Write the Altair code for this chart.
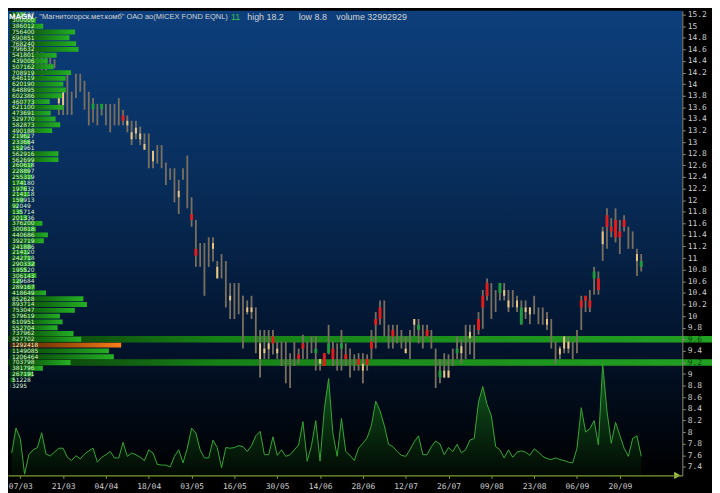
import altair as alt
import pandas as pd

# ---------------- data ----------------
IDX = list(range(148))
HI = [14.90, 14.95, 14.80, 14.70, 14.85, 14.75, 14.60, 14.55, 14.50, 14.46,
      14.43, 13.79, 13.87, 14.18, 13.87, 14.18, 14.18, 14.06, 13.87, 13.76,
      13.66, 13.66, 13.66, 13.66, 13.66, 13.76, 13.56, 13.46, 13.37, 13.37,
      13.27, 13.15, 13.15, 12.85, 12.95, 12.95, 12.65, 12.55, 12.55, 12.35,
      12.55, 12.77, 12.05, 11.66, 11.26, 11.26, 11.36, 11.36, 10.95, 11.07,
      10.95, 10.57, 10.57, 10.57, 10.35, 10.27, 10.35, 10.15, 9.76, 9.76,
      9.76, 9.76, 9.56, 9.56, 9.56, 9.36, 9.56, 9.44, 9.68, 9.56,
      9.65, 9.65, 9.26, 9.36, 9.85, 9.56, 9.53, 9.76, 9.53, 9.44,
      9.34, 9.36, 9.36, 9.34, 9.76, 10.07, 10.27, 10.27, 9.85, 9.85,
      9.85, 9.76, 9.65, 9.76, 9.95, 9.95, 9.85, 9.85, 9.76, 9.44,
      9.26, 9.36, 9.34, 9.44, 9.65, 9.60, 9.85, 9.85, 9.85, 10.07,
      10.45, 10.65, 10.57, 10.45, 10.57, 10.57, 10.45, 10.45, 10.35, 10.27,
      10.27, 10.15, 10.35, 10.15, 10.15, 10.07, 9.95, 9.56, 9.48, 9.65,
      9.65, 9.56, 9.76, 10.35, 10.35, 10.45, 10.85, 10.77, 11.54, 11.86,
      11.69, 11.86, 11.66, 11.74, 11.54, 11.46, 11.16, 11.07]
LO = [14.55, 14.50, 14.40, 14.45, 14.50, 14.30, 14.25, 14.15, 14.20, 14.30,
      14.28, 13.47, 13.47, 13.47, 13.47, 13.76, 13.87, 13.56, 13.29, 13.34,
      13.29, 13.46, 13.29, 13.17, 13.29, 13.29, 13.29, 13.17, 12.95, 13.05,
      12.95, 12.87, 12.55, 12.55, 12.63, 12.55, 12.26, 12.35, 11.96, 11.76,
      12.35, 11.86, 11.54, 10.85, 10.85, 10.35, 10.85, 10.94, 10.65, 10.65,
      10.15, 9.95, 9.95, 10.03, 9.44, 10.03, 9.95, 9.36, 8.94, 9.26,
      9.26, 9.34, 9.26, 9.14, 8.84, 8.76, 9.14, 9.18, 9.26, 9.26,
      9.36, 9.06, 9.06, 9.14, 9.34, 9.14, 9.06, 9.06, 9.14, 8.94,
      9.06, 9.06, 8.84, 9.06, 9.26, 9.44, 9.85, 9.65, 9.44, 9.44,
      9.53, 9.44, 9.36, 9.26, 9.65, 9.53, 9.44, 9.65, 9.44, 8.76,
      8.84, 8.94, 8.94, 9.14, 9.26, 9.18, 9.26, 9.34, 9.26, 9.68,
      9.78, 10.27, 9.95, 10.07, 10.27, 10.27, 10.07, 10.15, 10.07, 9.85,
      9.95, 9.86, 10.03, 9.86, 9.85, 9.76, 9.44, 9.18, 9.26, 9.36,
      9.36, 9.26, 9.36, 9.76, 10.07, 10.07, 10.37, 10.37, 10.95, 11.16,
      11.36, 11.27, 11.07, 11.46, 11.16, 11.16, 10.69, 10.77]
N = None
BODY_TOP = [N, N, N, N, N, N, N, N, N, N,
            N, 13.76, 13.87, N, N, N, N, N, N, 13.66,
            N, 13.66, N, N, N, N, 13.46, 13.37, 13.17, 13.25,
            13.15, 12.97, N, 12.85, N, N, N, N, N, 12.16,
            N, N, 11.76, 11.16, N, N, N, 11.26, 10.85, N,
            N, 10.35, N, N, N, 10.15, 10.15, N, 9.53, 9.44,
            9.53, 9.65, 9.44, N, 9.06, N, N, 9.34, 9.53, N,
            N, 9.44, 9.26, 9.36, 9.53, 9.44, N, 9.53, 9.34, N,
            N, 9.26, 9.18, 9.26, 9.56, 9.95, 10.15, 10.07, N, 9.76,
            N, N, 9.44, N, 9.95, 9.85, N, 9.76, N, N,
            9.06, 9.06, 9.06, N, 9.44, 9.48, N, 9.73, N, 9.95,
            10.35, 10.57, 10.27, N, 10.57, 10.45, 10.27, N, 10.27, 10.15,
            10.15, 10.15, N, N, N, 9.95, N, N, 9.44, 9.65,
            9.56, N, N, 10.27, 10.35, 10.27, 10.77, 10.65, 11.46, 11.74,
            11.54, 11.66, 11.46, 11.66, N, 11.46, 11.07, 10.95]
BODY_BOT = [N, N, N, N, N, N, N, N, N, N,
            N, 13.67, 13.64, N, N, N, N, N, N, 13.57,
            N, 13.57, N, N, N, N, 13.37, 13.29, 13.05, 13.15,
            13.05, 12.87, N, 12.67, N, N, N, N, N, 12.05,
            N, N, 11.66, 11.04, N, N, N, 11.16, 10.65, N,
            N, 10.27, N, N, N, 10.07, 10.07, N, 9.26, 9.36,
            9.43, 9.53, 9.36, N, 8.94, N, N, 9.26, 9.44, N,
            N, 9.36, 9.18, 9.14, 9.36, 9.26, N, 9.44, 9.26, N,
            N, 9.16, 9.06, 9.16, 9.44, 9.85, 9.95, 9.95, N, 9.65,
            N, N, 9.36, N, 9.85, 9.76, N, 9.65, N, N,
            8.94, 8.94, 8.94, N, 9.36, 9.36, N, 9.62, N, 9.76,
            10.15, 10.35, 10.15, N, 10.40, 10.35, 10.15, N, 10.15, 9.86,
            10.07, 10.03, N, N, N, 9.85, N, N, 9.34, 9.44,
            9.44, N, N, 10.15, 10.27, 10.15, 10.65, 10.45, 11.24, 11.54,
            11.46, 11.36, 11.36, 11.54, N, 11.24, 10.95, 10.85]
KIND = list("nnnnnnnnnn"
            "nuunnnnnng"
            "ngnnnnduuu"
            "uunu" "nnnnnu"
            "nnddnnnuun"
            "nunnnuunuu"
            "udunngnddn"
            "ngudgdngdn"
            "nduddddndd"
            "nnunugndnn"
            "guungunund"
            "ddndguunug"
            "uunnnunnuu"
            "unndddgdud"
            "dddddnugg")
VOL = [34.5, 73, 57, 2, 32, 39.5, 43, 66, 33, 30,
       36, 42, 42, 28, 23, 30.5, 25.5, 33, 38, 42,
       20.5, 28, 32, 37, 27, 27, 51, 29.5, 34.5, 32,
       28, 23, 39.5, 34.5, 17, 16, 16, 13, 29.5, 39.5,
       19.5, 42, 73, 65.5, 39.5, 27, 27, 54.5, 43, 12,
       43, 42, 43, 46, 44.5, 37, 46, 61, 68, 32,
       32, 59.5, 31, 39.5, 29.5, 32, 39.5, 47, 83, 22,
       46, 84.5, 22, 102, 149.5, 64.5, 29.5, 88, 37, 31,
       23, 42, 49.5, 58, 77, 114.5, 99.5, 77, 48, 44.5,
       37, 31, 29.5, 39.5, 52, 61, 32, 32, 44.5, 53,
       48.5, 32, 43, 37, 48, 35, 39.5, 54.5, 57, 113,
       137, 109.5, 92, 44.5, 39.5, 27, 39.5, 28, 36, 38,
       36, 31, 41, 36, 29.5, 26, 24.5, 27, 24.5, 23,
       20.5, 19.5, 42, 104.5, 67, 72, 84.5, 47, 172, 99.5,
       49.5, 82, 62, 42, 29.5, 57, 61, 29.5]

PROF_VOL = [173607, 300000, 386012, 756400, 690851, 768240, 796632, 541801, 439006, 507162,
            708919, 646119, 620190, 648895, 602386, 460773, 621100, 473691, 529770, 582873,
            490188, 219627, 233664, 152961, 562916, 562699, 260618, 228897, 255319, 174180,
            197632, 214118, 159913, 92049, 135714, 201336, 376200, 300818, 440686, 392719,
            241886, 214120, 242718, 290332, 195520, 306143, 129684, 289167, 418649, 852628,
            893714, 753047, 579619, 610951, 552704, 737962, 827702, 1292418, 1149085, 1206464,
            703798, 381796, 267191, 51228, 3295]
PROF_PRICE = [round(15.2 - 0.1 * k, 1) for k in range(len(PROF_VOL))]
BAND_LEVELS = [9.6, 9.2]
PRICE_TICKS = [round(7.4 + 0.2 * k, 1) for k in range(40)]
DATE_TICK_IDX = [2, 12, 22, 32, 42, 52, 62, 72, 82, 92, 102, 112, 122, 132, 142]
DATE_LABELS = ["07/03", "21/03", "04/04", "18/04", "03/05", "16/05", "30/05", "14/06",
               "28/06", "12/07", "26/07", "09/08", "23/08", "06/09", "20/09"]
TITLE_TICKER = "MAGN"
TITLE_NAME = '- "Магнитогорск.мет.комб" ОАО ао(MICEX FOND EQNL)'
TITLE_PERIOD = "11"
TITLE_HIGH = "high 18.2"
TITLE_LOW = "low 8.8"
TITLE_VOLUME = "volume 32992929"

# ---------------- chart ----------------
W, H = 682, 470
MONO = "DejaVu Sans Mono"

df = pd.DataFrame({"i": IDX, "hi": HI, "lo": LO, "bt": BODY_TOP, "bb": BODY_BOT,
                   "kind": KIND[:len(IDX)], "vol": VOL})
prof = pd.DataFrame({"p": PROF_PRICE, "v": PROF_VOL})
bands = pd.DataFrame({"p": BAND_LEVELS})
one = pd.DataFrame({"a": [0]})

XI = alt.Scale(domain=[-0.868, 156.6], nice=False, zero=False)
YP = alt.Scale(domain=[7.252, 15.267], nice=False, zero=False)
YV = alt.Scale(domain=[0, 716.6], nice=False, zero=True)
XP = alt.Scale(domain=[0, max(PROF_VOL)], range=[2, 114.5], nice=False)


def grad(stops, vertical=False):
    return alt.Gradient(
        gradient="linear",
        x1=0, y1=0, x2=0 if vertical else 1, y2=1 if vertical else 0,
        stops=[alt.GradientStop(color=c, offset=o) for o, c in stops],
    )


bg = alt.Chart(one).mark_rect(
    color=grad([(0, "#0d3f7c"), (0.35, "#082e5c"), (0.7, "#03152f"), (1, "#000000")], vertical=True)
).encode(x=alt.value(0), x2=alt.value(W), y=alt.value(0), y2=alt.value(H))

band = alt.Chart(bands).transform_calculate(
    p0="datum.p - 0.056", p1="datum.p + 0.056"
).mark_rect(
    color=grad([(0, "#0a360a"), (0.3, "#168216"), (1, "#22a022")])
).encode(
    x=alt.value(0), x2=alt.value(W + 30),
    y=alt.Y("p0:Q", scale=YP, axis=None), y2="p1:Q"
)

x_axis = alt.Axis(
    values=DATE_TICK_IDX,
    labelExpr="[" + ",".join("'%s'" % d for d in DATE_LABELS) + "][round((datum.value-2)/10)]",
    domainColor="#7d9b33", tickColor="#7d9b33", tickSize=3, domainWidth=1.2,
    labelColor="#cfcfcf", labelFont=MONO, labelFontSize=8, labelPadding=4,
    grid=False, title=None, labelOverlap=False, zindex=1,
)
vol = alt.Chart(df).mark_area(
    color=grad([(0, "#1f8a1f"), (0.55, "#0c4010"), (1, "#020c05")], vertical=True),
    line={"color": "#37a637", "strokeWidth": 1},
    interpolate="linear",
).encode(
    x=alt.X("i:Q", scale=XI, axis=x_axis),
    y=alt.Y("vol:Q", scale=YV, axis=None),
)

y_axis = alt.Axis(
    orient="right", values=PRICE_TICKS,
    labelExpr="replace(format(datum.value, '.1f'), '.0', '')",
    domainColor="#8c8c78", tickColor="#8c8c78", tickSize=3,
    labelColor={"condition": {"test": "abs(datum.value-9.6)<0.01 || abs(datum.value-9.2)<0.01",
                              "value": "#0c4a0c"}, "value": "#cfcfcf"},
    labelFont=MONO, labelFontSize=8, labelPadding=2,
    grid=False, title=None, labelOverlap=False, zindex=1,
)
wick = alt.Chart(df).mark_rule(strokeWidth=1.8, color="#7b705f").encode(
    x=alt.X("i:Q", scale=XI, axis=None),
    y=alt.Y("lo:Q", scale=YP, axis=y_axis),
    y2="hi:Q",
)
body_u = alt.Chart(df).transform_filter("datum.kind == 'u'").mark_rule(
    strokeWidth=2, color="#e9c587"
).encode(
    x=alt.X("i:Q", scale=XI, axis=None),
    y=alt.Y("bb:Q", scale=YP, axis=None), y2="bt:Q",
)
body_dg = alt.Chart(df).transform_filter("datum.kind == 'd' || datum.kind == 'g'").mark_rule(
    strokeWidth=3
).encode(
    x=alt.X("i:Q", scale=XI, axis=None),
    y=alt.Y("bb:Q", scale=YP, axis=None), y2="bt:Q",
    color=alt.Color("kind:N", scale=alt.Scale(domain=["d", "g"], range=["#e31b1b", "#1d9a3a"]), legend=None),
)

prof_base = alt.Chart(prof).transform_joinaggregate(vmax="max(v)").transform_calculate(
    p0="datum.p - 0.042", p1="datum.p + 0.042", z="0"
)
prof_green = prof_base.transform_filter("datum.v < datum.vmax").mark_rect(
    color=grad([(0, "#083c08"), (0.5, "#127012"), (1, "#25b025")])
).encode(
    x=alt.X("z:Q", scale=XP, axis=None), x2="v:Q",
    y=alt.Y("p0:Q", scale=YP, axis=None), y2="p1:Q",
)
prof_max = prof_base.transform_filter("datum.v == datum.vmax").mark_rect(
    color=grad([(0, "#4a2200"), (0.5, "#a04a08"), (1, "#ff7e1a")])
).encode(
    x=alt.X("z:Q", scale=XP, axis=None), x2="v:Q",
    y=alt.Y("p0:Q", scale=YP, axis=None), y2="p1:Q",
)
prof_lab = alt.Chart(prof).mark_text(
    align="left", baseline="middle", fontSize=6, font="DejaVu Sans", color="#dcf3d4"
).encode(
    x=alt.value(4),
    y=alt.Y("p:Q", scale=YP, axis=None),
    text=alt.Text("v:Q", format="d"),
)


def label(txt, x, color, size, weight="normal", font="Liberation Sans"):
    return alt.Chart(pd.DataFrame({"t": [txt]})).mark_text(
        align="left", baseline="middle", fontSize=size, fontWeight=weight, font=font, color=color
    ).encode(x=alt.value(x), y=alt.value(6.5), text="t:N")


h1 = label(TITLE_TICKER, 1, "#ffffff", 8, "bold")
h2 = label(TITLE_NAME, 27, "#d2d2d2", 7.6)
h3 = label(TITLE_PERIOD, 225.5, "#3fc33f", 9)
h4 = label(TITLE_HIGH, 242, "#d2d2d2", 9)
h5 = label(TITLE_LOW, 294, "#d2d2d2", 9)
h6 = label(TITLE_VOLUME, 332, "#d2d2d2", 9)

arrow = alt.Chart(one).mark_point(
    shape="triangle-right", filled=True, size=55, color="#a0c83e", opacity=1
).encode(x=alt.value(677), y=alt.value(H))

chart = alt.layer(
    bg, band, vol, wick, body_u, body_dg, prof_green, prof_max, prof_lab,
    h1, h2, h3, h4, h5, h6, arrow
).resolve_scale(
    x="independent", y="independent", color="independent"
).properties(
    width=W, height=H,
    autosize=alt.AutoSizeParams(type="none"),
    padding={"left": 0, "top": 0, "right": 30, "bottom": 15},
    background="#000000",
).configure_view(strokeWidth=0)

chart.save("out.html", embed_options={"renderer": "svg", "actions": False})
